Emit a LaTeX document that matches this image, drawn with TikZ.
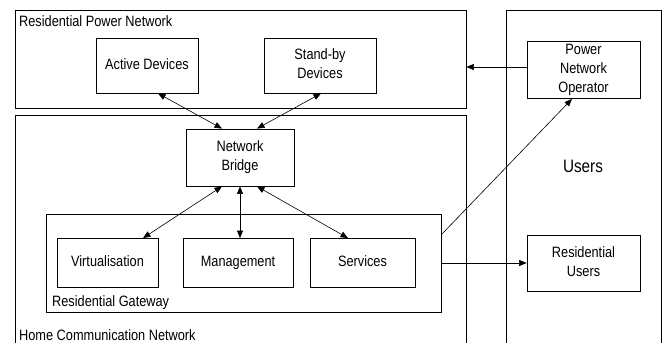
\documentclass[tikz,border=0pt]{standalone}
\usepackage{fontspec}
\setmainfont{Liberation Sans}
\usetikzlibrary{arrows.meta,calc}
\newcommand{\sqz}[1]{\scalebox{0.85}[1]{\begin{tabular}{@{}c@{}}#1\end{tabular}}}
\newcommand{\sql}[1]{\scalebox{0.85}[1]{#1}}
\begin{document}
\begin{tikzpicture}[x=1pt,y=-1pt,
  font=\fontsize{15}{19}\selectfont,
  frame/.style={draw, line width=0.8pt, inner sep=0pt},
  box/.style={frame, align=center},
  lbl/.style={anchor=base west, inner sep=0pt},
  tip/.tip={Triangle[length=7.5pt,width=6pt]},
  arr/.style={-tip, line width=0.6pt},
  darr/.style={tip-tip, line width=0.6pt}]
\useasboundingbox (0,0) rectangle (662,343);

% containers
\node[frame, minimum width=451pt, minimum height=98pt] (rpn) at (240.5,59) {};
\node[lbl] (rpnl) at (19,26) {\sql{Residential Power Network}};
\draw[line width=0.8pt] (15,343) -- (15,115) -- (466,115) -- (466,343);
\node[lbl] (hcnl) at (19,340) {\sql{Home Communication Network}};
\draw[line width=0.8pt] (506,343) -- (506,10) -- (661,10) -- (661,343);
\node[anchor=base, inner sep=0pt] (usl) at (583,172) {\fontsize{18}{20}\selectfont\sql{Users}};
\node[frame, minimum width=395pt, minimum height=98pt] (rg) at (243.5,263) {};
\node[lbl] (rgl) at (52,306) {\sql{Residential Gateway}};

% boxes
\node[box, minimum width=102pt, minimum height=55pt] (ad) at (147,65.5) {\sqz{Active Devices}};
\node[box, minimum width=112pt, minimum height=55pt] (sb) at (320,65.5) {\sqz{Stand-by\\Devices}};
\node[box, minimum width=113pt, minimum height=56pt] (pno) at (583.5,70) {\sqz{Power\\Network\\Operator}};
\node[box, minimum width=108pt, minimum height=57pt] (nb) at (240,157.5) {\sqz{Network\\Bridge}};
\node[box, minimum width=101pt, minimum height=49pt] (vi) at (107.5,263) {\sqz{Virtualisation}};
\node[box, minimum width=110pt, minimum height=49pt] (mg) at (238,263) {\sqz{Management}};
\node[box, minimum width=105pt, minimum height=49pt] (sv) at (362.5,263) {\sqz{Services}};
\node[box, minimum width=113pt, minimum height=56pt] (ru) at (583.5,263) {\sqz{Residential\\Users}};

% connectors
\coordinate (pnow) at ([yshift=3pt]pno.west);
\draw[arr] (pnow) -- (pnow -| rpn.east);
\draw[darr] ([xshift=11pt]ad.south) -- ([xshift=-18pt]nb.north);
\draw[darr] ([xshift=1pt]sb.south) -- ([xshift=17pt]nb.north);
\draw[darr] ([xshift=-18pt]nb.south) -- ([xshift=35.5pt]vi.north);
\draw[darr] (nb.south) -- (nb.south |- mg.north);
\draw[darr] ([xshift=17pt]nb.south) -- ([xshift=-14.5pt]sv.north);
\draw[arr] ([yshift=-21pt]rg.north east) -- ([xshift=-11.5pt]pno.south);
\draw[arr] (rg.east) -- (ru.west);
\end{tikzpicture}
\end{document}
